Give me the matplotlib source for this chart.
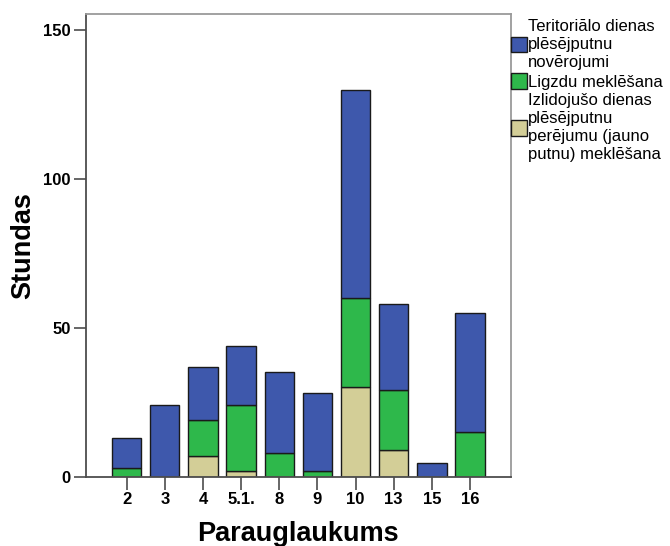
import numpy as np
import matplotlib
matplotlib.use('Agg')
import matplotlib.pyplot as plt
from matplotlib.patches import Patch

plt.rcParams['font.family'] = ['Liberation Sans', 'DejaVu Sans']

# dati
kategorijas = ['2', '3', '4', '5.1.', '8', '9', '10', '13', '15', '16']
izlidojuso = [0, 0, 7, 2, 0, 0, 30, 9, 0, 0]
ligzdu = [3, 0, 12, 22, 8, 2, 30, 20, 0, 15]
teritorialo = [10, 24, 18, 20, 27, 26, 70, 29, 4.5, 40]
y_ticks = [0, 50, 100, 150]

nosaukumi = ['Teritoriālo dienas\nplēsējputnu\nnovērojumi',
             'Ligzdu meklēšana',
             'Izlidojušo dienas\nplēsējputnu\nperējumu (jauno\nputnu) meklēšana']
krasas = ['#3e58ac', '#2eb84b', '#d3ce97']

fig = plt.figure(figsize=(6.7, 5.46), dpi=100)
ax = fig.add_axes([86 / 670, 1 - 476.7 / 546, (510.7 - 86) / 670, (476.7 - 14.3) / 546])

x = np.arange(len(kategorijas))
w = 0.77
b1 = np.array(izlidojuso, dtype=float)
b2 = b1 + np.array(ligzdu, dtype=float)

ax.bar(x, izlidojuso, w, color=krasas[2], edgecolor='#1a1a1a', linewidth=1.0, zorder=2)
ax.bar(x, ligzdu, w, bottom=b1, color=krasas[1], edgecolor='#1a1a1a', linewidth=1.0, zorder=2)
ax.bar(x, teritorialo, w, bottom=b2, color=krasas[0], edgecolor='#1a1a1a', linewidth=1.0, zorder=2)

ax.set_xlim(-1.065, len(kategorijas) - 1 + 1.065)
ax.set_ylim(0, 155.3)
ax.set_xticks(x)
ax.set_xticklabels(kategorijas, fontsize=12, fontweight='bold')
ax.set_yticks(y_ticks)
ax.set_yticklabels([str(t) for t in y_ticks], fontsize=12, fontweight='bold')
ax.tick_params(axis='both', length=9, width=1.2, color='#4d4d4d', pad=2)

for s in ['left', 'bottom']:
    ax.spines[s].set_color('#4d4d4d')
    ax.spines[s].set_linewidth(1.3)
for s in ['top', 'right']:
    ax.spines[s].set_color('#9a9a9a')
    ax.spines[s].set_linewidth(1.3)

ax.set_xlabel('Parauglaukums', fontsize=19.5, fontweight='bold', labelpad=10)
ax.set_ylabel('Stundas', fontsize=19.5, fontweight='bold', labelpad=5)

# legenda
rokturi = [Patch(facecolor=c, edgecolor='#1a1a1a', linewidth=1.0) for c in krasas]
ax.legend(rokturi, nosaukumi, loc='upper left', bbox_to_anchor=(1.0, 0.99),
          frameon=False, fontsize=12, handlelength=0.95, handleheight=1.05,
          handletextpad=0.1, labelspacing=0.2, borderaxespad=0.0, borderpad=0.0)
for t in ax.get_legend().get_texts():
    t.set_linespacing(1.25)

fig.savefig('out.png', dpi=100)
